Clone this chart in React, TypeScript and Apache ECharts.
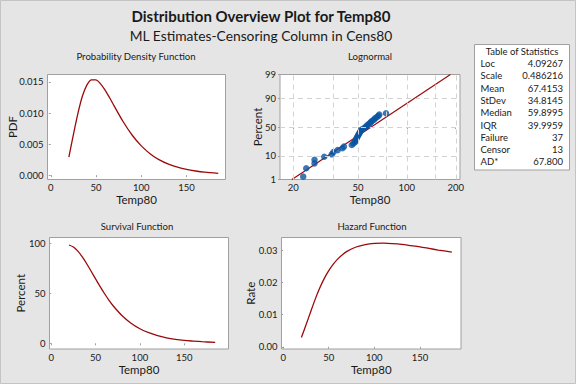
import React, { useEffect, useRef } from 'react';
import * as echarts from 'echarts';

// ---- data ----
const temps = [20, 25, 30, 35, 40, 45, 50, 55, 60, 65, 70, 80, 90, 100, 110, 120, 130, 140, 150, 160, 170, 185];
const pdfValues = [0.0029, 0.00653, 0.00995, 0.01273, 0.01453, 0.01534, 0.01532, 0.01469, 0.01368, 0.01245, 0.01114, 0.00859, 0.00642, 0.00471, 0.00342, 0.00246, 0.00177, 0.00128, 0.00092, 0.00067, 0.00048, 0.0003];
const survivalValues = [98.5, 96.4, 92.3, 86.5, 79.7, 72.2, 64.5, 57.0, 49.9, 43.3, 37.4, 27.6, 20.1, 14.6, 10.6, 7.6, 5.5, 4.0, 2.9, 2.2, 1.6, 1.0];
const hazardValues = [0.0029, 0.00677, 0.01079, 0.01471, 0.01823, 0.02125, 0.02375, 0.02579, 0.02743, 0.02872, 0.02975, 0.03114, 0.03191, 0.03227, 0.03234, 0.0322, 0.03195, 0.03158, 0.03119, 0.03069, 0.03019, 0.02951];

const failTemps = [23.0, 24.0, 27.0, 27.0, 31.0, 34.5, 35.3, 37.5, 40.1, 41.0, 45.8, 46.8, 48.0, 48.2, 48.7, 49.1, 49.6, 50.0, 50.5, 51.0, 51.5, 52.0, 52.4, 54.0, 55.3, 56.1, 57.1, 58.2, 59.3, 60.2, 61.3, 62.8, 63.7, 65.3, 66.8, 67.7, 74.4];
const failPercents = [1.39, 3.37, 5.36, 7.34, 9.33, 11.31, 13.29, 15.28, 17.26, 19.25, 21.23, 23.21, 25.2, 27.18, 29.17, 31.15, 33.13, 35.12, 37.1, 39.09, 41.07, 43.06, 45.04, 47.02, 49.01, 50.99, 52.98, 54.96, 56.94, 58.93, 60.91, 62.9, 64.88, 66.87, 68.85, 70.83, 72.82];
const fitTemps = [19.6, 185.6];
const fitPercents = [1, 99];

const probTempLabels = [20, 50, 100, 200];
const probTempGrid = [20, 35, 50, 75, 100, 150, 200];
const probPercentLabels = [1, 10, 50, 90, 99];
const probPercentGrid = [10, 50, 90];
const probTempRange = [16.55, 212.6];

const pdfTicks = [0, 0.005, 0.01, 0.015];
const survTicks = [0, 50, 100];
const hazTicks = [0, 0.01, 0.02, 0.03];
const tempTicks = [0, 50, 100, 150];

const statLabels = ['Loc', 'Scale', 'Mean', 'StDev', 'Median', 'IQR', 'Failure', 'Censor', 'AD*'];
const statValues = ['4.09267', '0.486216', '67.4153', '34.8145', '59.8995', '39.9959', '37', '13', '67.800'];

// inverse standard normal CDF (probability-paper scale)
function normInv(p: number): number {
  const a = [-3.969683028665376e1, 2.209460984245205e2, -2.759285104469687e2, 1.38357751867269e2, -3.066479806614716e1, 2.506628277459239];
  const b = [-5.447609879822406e1, 1.615858368580409e2, -1.556989798598866e2, 6.680131188771972e1, -1.328068155288572e1];
  const c = [-7.784894002430293e-3, -3.223964580411365e-1, -2.400758277161838, -2.549732539343734, 4.374664141464968, 2.938163982698783];
  const d = [7.784695709041462e-3, 3.224671290700398e-1, 2.445134137142996, 3.754408661907416];
  const plow = 0.02425;
  if (p < plow) {
    const q = Math.sqrt(-2 * Math.log(p));
    return (((((c[0] * q + c[1]) * q + c[2]) * q + c[3]) * q + c[4]) * q + c[5]) / ((((d[0] * q + d[1]) * q + d[2]) * q + d[3]) * q + 1);
  }
  if (p <= 1 - plow) {
    const q = p - 0.5;
    const r = q * q;
    return ((((((a[0] * r + a[1]) * r + a[2]) * r + a[3]) * r + a[4]) * r + a[5]) * q) / (((((b[0] * r + b[1]) * r + b[2]) * r + b[3]) * r + b[4]) * r + 1);
  }
  const q = Math.sqrt(-2 * Math.log(1 - p));
  return -(((((c[0] * q + c[1]) * q + c[2]) * q + c[3]) * q + c[4]) * q + c[5]) / ((((d[0] * q + d[1]) * q + d[2]) * q + d[3]) * q + 1);
}

const FONT = "Lato, 'Open Sans', sans-serif";
const TXT = '#1a1a1a';
const LINE = '#9b0a0a';
const BORDER = '#a0a0a0';

function baseX(gridIndex: number, min: number, max: number, custom: number[], gap: number, fmt?: (v: number) => string) {
  const o: any = {
    type: 'value',
    gridIndex,
    min,
    max,
    name: 'Temp80',
    nameLocation: 'middle',
    nameGap: gap,
    nameMoveOverlap: false,
    nameTextStyle: { fontFamily: FONT, fontSize: 11.5, color: TXT },
    axisLine: { show: false },
    axisTick: { show: true, length: 2, lineStyle: { color: BORDER }, customValues: custom },
    axisLabel: { fontFamily: FONT, fontSize: 9.5, color: TXT, margin: 3, customValues: custom },
    splitLine: { show: false },
  };
  if (fmt) o.axisLabel.formatter = fmt;
  return o;
}

function baseY(gridIndex: number, min: number, max: number, custom: number[], name: string, gap: number, fmt?: (v: number) => string) {
  const o: any = {
    type: 'value',
    gridIndex,
    min,
    max,
    name,
    nameLocation: 'middle',
    nameGap: gap,
    nameMoveOverlap: false,
    nameTextStyle: { fontFamily: FONT, fontSize: 11.5, color: TXT },
    axisLine: { show: false },
    axisTick: { show: true, length: 2, lineStyle: { color: BORDER }, customValues: custom },
    axisLabel: { fontFamily: FONT, fontSize: 9.5, color: TXT, margin: 4, customValues: custom },
    splitLine: { show: false },
  };
  if (fmt) o.axisLabel.formatter = fmt;
  return o;
}

export default function App() {
  const ref = useRef<HTMLDivElement>(null);

  useEffect(() => {
    document.body.style.margin = '0';
    if (!ref.current) return;
    const chart = echarts.init(ref.current, null, { renderer: 'svg' });

    const gridStyle = { show: true, backgroundColor: '#ffffff', borderColor: BORDER, borderWidth: 1 };
    const lnMin = Math.log(probTempRange[0]);
    const lnMax = Math.log(probTempRange[1]);
    const zMin = normInv(probPercentLabels[0] / 100);
    const zMax = normInv(probPercentLabels[probPercentLabels.length - 1] / 100);

    const tempLabelLn = probTempLabels.map((t) => Math.log(t));
    const pctLabelZ = probPercentLabels.map((p) => normInv(p / 100));

    const nearestPct = (v: number) => {
      let best = 0;
      pctLabelZ.forEach((z, i) => {
        if (Math.abs(z - v) < Math.abs(pctLabelZ[best] - v)) best = i;
      });
      return String(probPercentLabels[best]);
    };

    const statText: any[] = [];
    statLabels.forEach((l, i) => {
      statText.push({
        type: 'text', x: 480.5, y: 63.5 + i * 12.3,
        style: { text: l, fontFamily: FONT, fontSize: 9.5, fill: TXT, textVerticalAlign: 'middle', textAlign: 'left' },
      });
      statText.push({
        type: 'text', x: 563, y: 63.5 + i * 12.3,
        style: { text: statValues[i], fontFamily: FONT, fontSize: 9.5, fill: TXT, textVerticalAlign: 'middle', textAlign: 'right' },
      });
    });

    const panelTitle = (text: string, x: number, y: number) => ({
      type: 'text', x, y,
      style: { text, fontFamily: FONT, fontSize: 9.6, fill: TXT, textAlign: 'center', textVerticalAlign: 'middle' },
    });

    const option: any = {
      animation: false,
      backgroundColor: '#e5e5e5',
      grid: [
        { left: 47.5, top: 74.5, width: 178, height: 105, ...gridStyle },
        { left: 280, top: 74.5, width: 180, height: 105, ...gridStyle },
        { left: 49.5, top: 237.5, width: 179, height: 111.5, ...gridStyle },
        { left: 281.5, top: 237.5, width: 179.5, height: 111.5, ...gridStyle },
      ],
      xAxis: [
        baseX(0, -3.6, 193, tempTicks, 13.5),
        baseX(1, lnMin, lnMax, tempLabelLn, 13.5, (v: number) => String(Math.round(Math.exp(v)))),
        baseX(2, -2, 200, tempTicks, 14.5),
        baseX(3, -1.8, 195, tempTicks, 14.5),
      ],
      yAxis: [
        baseY(0, -0.0007, 0.0162, pdfTicks, 'PDF', 29, (v: number) => v.toFixed(3)),
        baseY(1, zMin, zMax, pctLabelZ, 'Percent', 17, nearestPct),
        baseY(2, -5.7, 106, survTicks, 'Percent', 23.5),
        baseY(3, -0.0007, 0.0341, hazTicks, 'Rate', 25.5, (v: number) => v.toFixed(2)),
      ],
      series: [
        {
          type: 'line', xAxisIndex: 0, yAxisIndex: 0, showSymbol: false, smooth: 0.3,
          lineStyle: { color: LINE, width: 1.3 },
          data: temps.map((t, i) => [t, pdfValues[i]]),
        },
        {
          type: 'line', xAxisIndex: 1, yAxisIndex: 1, showSymbol: false, z: 1, data: [],
          markLine: {
            silent: true, symbol: ['none', 'none'], label: { show: false },
            lineStyle: { color: '#d2d2d2', type: [5, 4], width: 1 },
            data: [
              ...probTempGrid.map((t) => ({ xAxis: Math.log(t) })),
              ...probPercentGrid.map((p) => ({ yAxis: normInv(p / 100) })),
            ],
          },
        },
        {
          type: 'line', xAxisIndex: 1, yAxisIndex: 1, showSymbol: false, z: 2,
          lineStyle: { color: LINE, width: 1.2 },
          data: fitTemps.map((t, i) => [Math.log(t), normInv(fitPercents[i] / 100)]),
        },
        {
          type: 'scatter', xAxisIndex: 1, yAxisIndex: 1, z: 3, symbolSize: 6.5,
          itemStyle: { color: '#0a55a3' },
          data: failTemps.map((t, i) => [Math.log(t), normInv(failPercents[i] / 100)]),
        },
        {
          type: 'line', xAxisIndex: 2, yAxisIndex: 2, showSymbol: false, smooth: 0.3,
          lineStyle: { color: LINE, width: 1.3 },
          data: temps.map((t, i) => [t, survivalValues[i]]),
        },
        {
          type: 'line', xAxisIndex: 3, yAxisIndex: 3, showSymbol: false, smooth: 0.3,
          lineStyle: { color: LINE, width: 1.3 },
          data: temps.map((t, i) => [t, hazardValues[i]]),
        },
      ],
      graphic: [
        {
          type: 'rect', shape: { x: 0.5, y: 0.5, width: 575, height: 383 },
          style: { fill: 'none', stroke: '#c4c4c4', lineWidth: 1 }, silent: true,
        },
        {
          type: 'text', x: 261, y: 16,
          style: { text: 'Distribution Overview Plot for Temp80', fontFamily: FONT, fontSize: 15, fontWeight: 'bold', fill: TXT, textAlign: 'center', textVerticalAlign: 'middle' },
        },
        {
          type: 'text', x: 261, y: 35,
          style: { text: 'ML Estimates-Censoring Column in Cens80', fontFamily: FONT, fontSize: 13.8, fill: TXT, textAlign: 'center', textVerticalAlign: 'middle' },
        },
        panelTitle('Probability Density Function', 136, 56),
        panelTitle('Lognormal', 370, 56),
        panelTitle('Survival Function', 137, 226),
        panelTitle('Hazard Function', 372, 226),
        {
          type: 'rect', shape: { x: 474.5, y: 44.5, width: 95, height: 125.5 },
          style: { fill: '#ffffff', stroke: BORDER, lineWidth: 1 },
        },
        {
          type: 'text', x: 522, y: 51.5,
          style: { text: 'Table of Statistics', fontFamily: FONT, fontSize: 9.5, fill: TXT, textAlign: 'center', textVerticalAlign: 'middle' },
        },
        ...statText,
      ],
    };

    chart.setOption(option);
    return () => chart.dispose();
  }, []);

  return <div ref={ref} style={{ width: 576, height: 384 }} />;
}
